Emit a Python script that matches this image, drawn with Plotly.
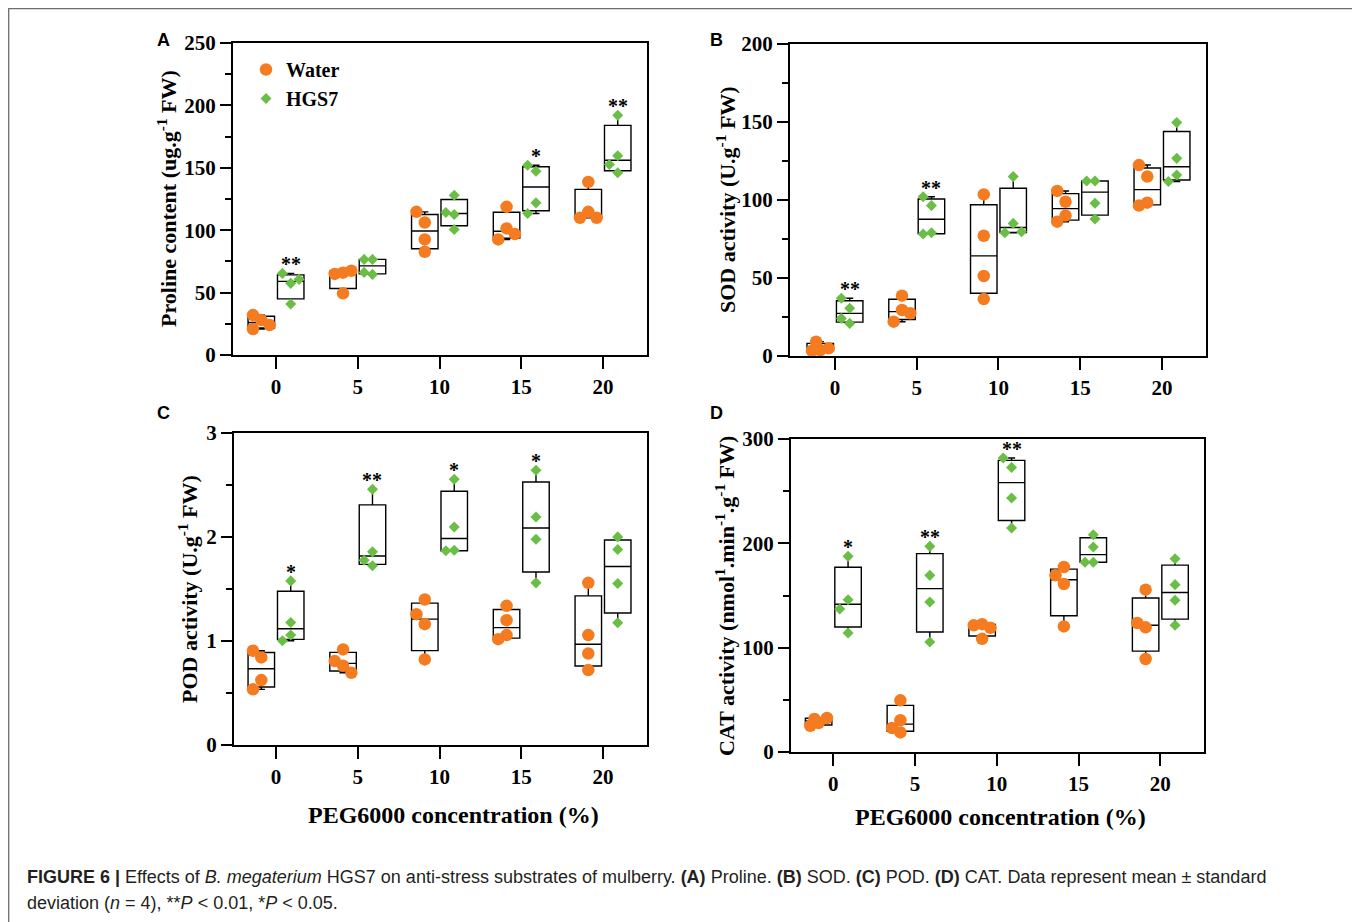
import numpy as np
import plotly.graph_objects as go

W, H = 1360, 922
PAGE_PAD = 8   # the page body offsets the figure by this many px

# ---------------- data ----------------
CONC = [0, 5, 10, 15, 20]
TICK_LABELS = ["0", "5", "10", "15", "20"]

PROLINE_WATER = [[28.0, 32.0, 24.0, 20.8], [66.0, 65.0, 67.5, 49.4], [106.2, 92.6, 82.7, 114.7],
                 [118.7, 101.4, 92.6, 96.9], [138.7, 114.7, 109.9, 109.9]]
PROLINE_HGS7 = [[57.4, 65.4, 60.6, 40.8], [76.6, 76.6, 64.6, 66.2], [112.6, 114.2, 100.6, 128.0],
                [147.3, 152.0, 121.9, 113.4], [192.1, 159.6, 152.6, 146.0]]
PROLINE_SIG = ["**", "", "", "*", "**"]

SOD_WATER = [[3.8, 3.4, 4.9, 9.2], [38.7, 29.5, 22.0, 27.4], [103.6, 77.1, 51.3, 36.5],
             [98.9, 105.8, 90.0, 86.1], [115.0, 122.4, 98.3, 96.4]]
SOD_HGS7 = [[30.6, 24.1, 37.0, 20.9], [96.4, 102.1, 79.0, 78.2], [115.0, 85.0, 79.0, 79.7],
            [112.2, 112.2, 97.9, 87.8], [149.6, 126.7, 116.0, 111.8]]
SOD_SIG = ["**", "**", "", "", ""]

POD_WATER = [[0.842, 0.906, 0.624, 0.535], [0.919, 0.762, 0.807, 0.695], [1.399, 1.162, 0.823, 1.258],
             [1.338, 1.200, 1.057, 1.018], [1.559, 1.057, 0.880, 0.720]]
POD_HGS7 = [[1.578, 1.178, 1.057, 1.002], [2.459, 1.857, 1.777, 1.723], [2.555, 2.097, 1.873, 1.867],
            [2.641, 2.193, 1.979, 1.559], [2.001, 1.879, 1.553, 1.175]]
POD_SIG = ["*", "**", "*", "*", ""]

CAT_WATER = [[27.8, 25.2, 32.6, 31.6], [49.5, 30.4, 18.8, 23.0], [122.5, 121.5, 119.0, 108.5],
             [177.3, 161.0, 169.3, 120.4], [155.6, 119.5, 123.6, 89.1]]
CAT_HGS7 = [[187.5, 146.0, 137.1, 114.1], [197.1, 169.3, 143.8, 105.4], [272.8, 281.8, 243.5, 214.7],
            [208.3, 196.5, 181.8, 181.8], [185.3, 160.4, 145.4, 121.4]]
CAT_SIG = ["*", "**", "**", "", ""]

SERIES_NAMES = ["Water", "HGS7"]

# ---------------- style ----------------
ORANGE = "#F47B20"
GREEN = "#6BBE45"
SERIF = "Liberation Serif"
SANS = "Liberation Sans"
OFFSET = 0.9        # box centre offset from the concentration tick
BOX_W = 1.62        # box width (data units)
STEP = 0.51         # horizontal spacing of scatter columns (data units)
COLLIDE = 12.0      # px
COL_ORDER = [0, -1, 1, -0.5, 0.5, -2, 2]

PANELS = [
    dict(water=PROLINE_WATER, hgs=PROLINE_HGS7, sig=PROLINE_SIG, px=(233, 647), py=(43, 355),
         xr=(-2.63, 22.69), yr=(0, 250), dtick=50, minor=25,
         ytitle="Proline content (ug.g<sup>-1</sup> FW)", ytpos=(167, 199),
         letter="A", lpos=(163, 40), xtitle=None),
    dict(water=SOD_WATER, hgs=SOD_HGS7, sig=SOD_SIG, px=(790, 1206), py=(44, 356),
         xr=(-2.75, 22.69), yr=(0, 200), dtick=50, minor=25,
         ytitle="SOD activity (U.g<sup>-1</sup> FW)", ytpos=(726, 200),
         letter="B", lpos=(716, 40), xtitle=None),
    dict(water=POD_WATER, hgs=POD_HGS7, sig=POD_SIG, px=(234, 647), py=(433, 745),
         xr=(-2.57, 22.69), yr=(0, 3), dtick=1, minor=0.5,
         ytitle="POD activity (U.g<sup>-1</sup> FW)", ytpos=(188, 589),
         letter="C", lpos=(163, 413), xtitle=("PEG6000 concentration (%)", 453, 815)),
    dict(water=CAT_WATER, hgs=CAT_HGS7, sig=CAT_SIG, px=(791, 1204), py=(439, 752),
         xr=(-2.59, 22.67), yr=(0, 300), dtick=100, minor=50,
         ytitle="CAT activity (nmol<sup>1</sup>.min<sup>-1</sup>.g<sup>-1</sup> FW)", ytpos=(725, 596),
         letter="D", lpos=(716, 413), xtitle=("PEG6000 concentration (%)", 1000, 817)),
]


def fx(x):
    return (x - PAGE_PAD) / W


def fy(y):
    return 1 - (y - PAGE_PAD) / H


def swarm(values, ppu):
    placed, cols = [], []
    for v in values:
        ypx = v * ppu
        chosen = COL_ORDER[-1]
        for c in COL_ORDER:
            if all(not (pc == c and abs(py - ypx) < COLLIDE) for pc, py in placed):
                chosen = c
                break
        placed.append((chosen, ypx))
        cols.append(chosen)
    return cols


fig = go.Figure()
annotations = []
layout = {}

for i, p in enumerate(PANELS, start=1):
    xa = "x" if i == 1 else f"x{i}"
    ya = "y" if i == 1 else f"y{i}"
    ppu = (p["py"][1] - p["py"][0]) / (p["yr"][1] - p["yr"][0])
    series = ((p["water"], -OFFSET, ORANGE, "circle", 12.5),
              (p["hgs"], OFFSET, GREEN, "diamond", 8.5))

    for groups, off, color, symbol, size in series:
        arrs = [np.array(g, dtype=float) for g in groups]
        fig.add_trace(go.Box(
            x=[c + off for c in CONC],
            q1=[float(np.quantile(a, 0.25, method="weibull")) for a in arrs],
            median=[float(np.median(a)) for a in arrs],
            q3=[float(np.quantile(a, 0.75, method="weibull")) for a in arrs],
            lowerfence=[float(a.min()) for a in arrs],
            upperfence=[float(a.max()) for a in arrs],
            width=BOX_W, whiskerwidth=0.27, boxpoints=False,
            line=dict(color="black", width=1.4), fillcolor="rgba(0,0,0,0)",
            xaxis=xa, yaxis=ya, showlegend=False, hoverinfo="skip"))
    for k, (groups, off, color, symbol, size) in enumerate(series):
        xs, ys = [], []
        for c, g in zip(CONC, groups):
            cols = swarm(g, ppu)
            xs += [c + off + col * STEP for col in cols]
            ys += list(g)
        fig.add_trace(go.Scatter(
            x=xs, y=ys, mode="markers", name=SERIES_NAMES[k],
            marker=dict(symbol=symbol, size=size, color=color, line=dict(width=0)),
            xaxis=xa, yaxis=ya, showlegend=(i == 1), hoverinfo="skip"))

    tickfont = dict(family=SERIF, size=21, color="black", weight="bold")
    layout["xaxis" if i == 1 else f"xaxis{i}"] = dict(
        domain=[fx(p["px"][0]), fx(p["px"][1])], range=list(p["xr"]), anchor=ya,
        tickmode="array", tickvals=CONC, ticktext=TICK_LABELS,
        ticks="outside", ticklen=12, tickwidth=2, tickcolor="black",
        showline=True, linewidth=2, linecolor="black", mirror=True,
        showgrid=False, zeroline=False, tickfont=tickfont, automargin=False)
    layout["yaxis" if i == 1 else f"yaxis{i}"] = dict(
        domain=[fy(p["py"][1]), fy(p["py"][0])], range=list(p["yr"]), anchor=xa,
        tick0=0, dtick=p["dtick"],
        ticks="outside", ticklen=11, tickwidth=2, tickcolor="black",
        minor=dict(dtick=p["minor"], tick0=0, ticks="outside", ticklen=6, tickwidth=2, tickcolor="black"),
        showline=True, linewidth=2, linecolor="black", mirror=True,
        showgrid=False, zeroline=False, tickfont=tickfont, automargin=False)

    # significance marks
    for c, g, s in zip(CONC, p["hgs"], p["sig"]):
        if s:
            annotations.append(dict(x=c + OFFSET, y=max(g), xref=xa, yref=ya, text=s, showarrow=False,
                                    yanchor="middle", yshift=9,
                                    font=dict(family=SERIF, size=20, color="black", weight="bold")))
    # y title
    annotations.append(dict(x=fx(p["ytpos"][0]), y=fy(p["ytpos"][1]), xref="paper", yref="paper",
                            text=p["ytitle"], textangle=-90, showarrow=False,
                            xanchor="center", yanchor="middle",
                            font=dict(family=SERIF, size=22, color="black", weight="bold")))
    # panel letter
    annotations.append(dict(x=fx(p["lpos"][0]), y=fy(p["lpos"][1]), xref="paper", yref="paper",
                            text=p["letter"], showarrow=False, xanchor="center", yanchor="middle",
                            font=dict(family=SANS, size=18, color="black", weight="bold")))
    if p["xtitle"]:
        t, tx, ty = p["xtitle"]
        annotations.append(dict(x=fx(tx), y=fy(ty), xref="paper", yref="paper", text=t, showarrow=False,
                                xanchor="center", yanchor="middle",
                                font=dict(family=SERIF, size=24, color="black", weight="bold")))

CAPTION_1 = ("<b>FIGURE 6 |</b> Effects of <i>B. megaterium</i> HGS7 on anti-stress substrates of mulberry. "
             "<b>(A)</b> Proline. <b>(B)</b> SOD. <b>(C)</b> POD. <b>(D)</b> CAT. Data represent mean ± standard")
CAPTION_2 = "deviation (<i>n</i> = 4), **<i>P</i> < 0.01, *<i>P</i> < 0.05."
for txt, yy in ((CAPTION_1, 877), (CAPTION_2, 903)):
    annotations.append(dict(x=fx(25), y=fy(yy), xref="paper", yref="paper", text=txt, showarrow=False,
                            xanchor="left", yanchor="middle",
                            font=dict(family=SANS, size=18, color="#231f20")))

fig.update_layout(
    width=W, height=H, margin=dict(l=0, r=0, t=0, b=0, pad=0, autoexpand=False),
    paper_bgcolor="white", plot_bgcolor="white", boxmode="overlay",
    annotations=annotations,
    legend=dict(x=fx(246), y=fy(50), xanchor="left", yanchor="top", bgcolor="rgba(0,0,0,0)",
                font=dict(family=SERIF, size=20, color="black", weight="bold"), itemwidth=30,
                tracegroupgap=0),
    shapes=[dict(type="rect", xref="paper", yref="paper", x0=fx(8.7), x1=fx(1355), y0=fy(8.7), y1=-0.05,
                 line=dict(color="#6d6d6d", width=1.3), fillcolor="rgba(0,0,0,0)", layer="below")],
    **layout)

fig.write_html("out.html")
